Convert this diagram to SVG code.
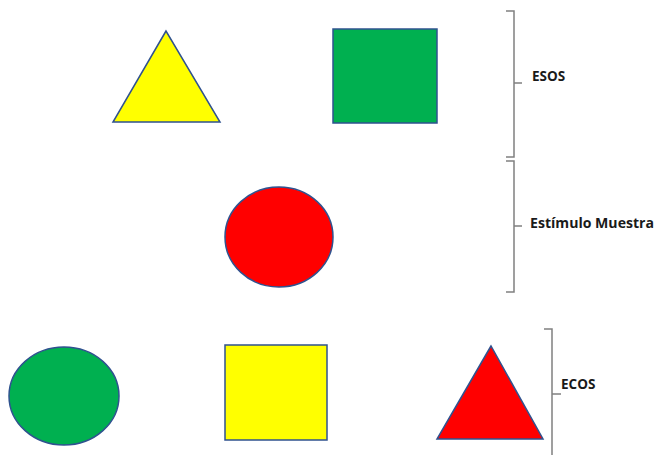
<svg xmlns="http://www.w3.org/2000/svg" width="656" height="455" viewBox="0 0 656 455">
<style>
.shape{stroke:#2F528F;stroke-width:1.5}
.brace{fill:none;stroke:#808080;stroke-width:1.5}
.lbl{font-family:"Open Sans",sans-serif;font-weight:bold;font-size:13.5px;fill:#1a1a1a}
</style>
<rect width="656" height="455" fill="#ffffff"/>
<g id="triangle-yellow"><polygon class="shape" fill="#FFFF00" points="166,31 113,122 220,122"/></g>
<g id="square-green"><rect class="shape" fill="#00B050" x="333" y="29" width="104" height="94"/></g>
<g id="circle-red"><ellipse class="shape" fill="#FF0000" cx="279" cy="237" rx="54" ry="50"/></g>
<g id="circle-green"><ellipse class="shape" fill="#00B050" cx="64" cy="396" rx="55" ry="49"/></g>
<g id="square-yellow"><rect class="shape" fill="#FFFF00" x="225" y="345" width="102" height="95"/></g>
<g id="triangle-red"><polygon class="shape" fill="#FF0000" points="491,346 437,439 543,439"/></g>
<g id="connectors">
<path class="brace" d="M506,11 H514 V157 H506 M514,83 H522"/>
<path class="brace" d="M506,161 H514 V292 H506 M514,226 H522"/>
<path class="brace" d="M544,329 H552 V455 M552,394 H561"/>
</g>
<g id="labels">
<text class="lbl" x="532" y="81">ESOS</text>
<text class="lbl" x="530" y="228" textLength="124" lengthAdjust="spacingAndGlyphs">Estímulo Muestra</text>
<text class="lbl" x="561" y="389">ECOS</text>
</g>
</svg>
